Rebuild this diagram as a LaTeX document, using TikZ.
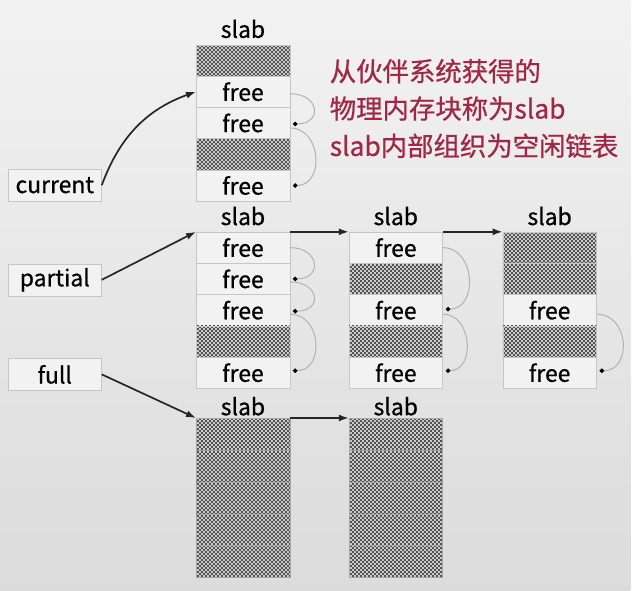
\documentclass[tikz,border=0pt]{standalone}
\usepackage{fontspec}
\setmainfont{Noto Sans CJK SC}[FakeBold=0.7]
\usepackage{xcolor}
\usetikzlibrary{patterns,arrows.meta,calc}
\definecolor{notered}{RGB}{160,40,70}
\pgfdeclarepatternformonly{finecheck}{\pgfpointorigin}{\pgfqpoint{4pt}{4pt}}{\pgfqpoint{4pt}{4pt}}{%
  \pgfpathrectangle{\pgfpointorigin}{\pgfqpoint{2pt}{2pt}}%
  \pgfpathrectangle{\pgfqpoint{2pt}{2pt}}{\pgfqpoint{2pt}{2pt}}%
  \pgfusepath{fill}}

\begin{document}
\begin{tikzpicture}[x=1pt, y=-1pt,
  every node/.style={font=\fontsize{23}{26}\selectfont, inner sep=0pt},
  freecell/.style={draw=gray!45, fill=gray!10, minimum width=94pt, minimum height=31.4pt},
  usedcell/.style={draw=gray!45, preaction={fill=gray!35}, pattern=finecheck, pattern color=gray!65!black, minimum width=94pt, minimum height=31.4pt},
  fullcell/.style={usedcell, draw=gray!70, minimum height=32pt},
  listbox/.style={draw=gray!45, fill=gray!10, minimum width=94pt, minimum height=32pt},
  ptr/.style={-{Latex[length=10pt,width=7pt]}, line width=1.7pt, black!85},
  link/.style={-{Circle[length=4.5pt,color=black]}, gray!60, line width=1pt, out=0, in=0}]

  % ========== Background ==========
  \fill[top color=gray!10, bottom color=gray!28] (0,0) rectangle (633,593);

  % ========== List heads ==========
  \node[listbox] (current) at (55,186) {current};
  \node[listbox] (partial) at (55,281) {partial};
  \node[listbox] (full) at (55,376) {full};

  % ========== Slab on the current list ==========
  \node (cslab) at (244,29) {slab};
  \node[usedcell] (c1) at (244,60.7) {};
  \node[freecell] (c2) at (244,92.1) {free};
  \node[freecell] (c3) at (244,123.5) {free};
  \node[usedcell] (c4) at (244,154.9) {};
  \node[freecell] (c5) at (244,186.3) {free};

  % Note
  \node[font=\fontsize{26.5}{37.5}\selectfont, text=notered, align=left, anchor=north west] (note) at (331,59)
    {从伙伴系统获得的\\物理内存块称为slab\\slab内部组织为空闲链表};

  % ========== Slabs on the partial list ==========
  \node (pslab) at (244,217) {slab};
  \node[freecell] (p1) at (244,248.7) {free};
  \node[freecell] (p2) at (244,280.1) {free};
  \node[freecell] (p3) at (244,311.5) {free};
  \node[usedcell] (p4) at (244,342.9) {};
  \node[freecell] (p5) at (244,374.3) {free};

  \node (qslab) at (397.5,217) {slab};
  \node[freecell] (q1) at (397.5,248.7) {free};
  \node[usedcell] (q2) at (397.5,280.1) {};
  \node[freecell] (q3) at (397.5,311.5) {free};
  \node[usedcell] (q4) at (397.5,342.9) {};
  \node[freecell] (q5) at (397.5,374.3) {free};

  \node (rslab) at (552,217) {slab};
  \node[usedcell] (r1) at (552,248.7) {};
  \node[usedcell] (r2) at (552,280.1) {};
  \node[freecell] (r3) at (552,311.5) {free};
  \node[usedcell] (r4) at (552,342.9) {};
  \node[freecell] (r5) at (552,374.3) {free};

  % ========== Slabs on the full list ==========
  \node (fslab) at (244,408) {slab};
  \node[fullcell] (f1) at (244,436) {};
  \node[fullcell] (f2) at (244,468) {};
  \node[fullcell] (f3) at (244,500) {};
  \node[fullcell] (f4) at (244,532) {};
  \node[fullcell] (f5) at (244,564) {};

  \node (gslab) at (397.5,408) {slab};
  \node[fullcell] (g1) at (397.5,436) {};
  \node[fullcell] (g2) at (397.5,468) {};
  \node[fullcell] (g3) at (397.5,500) {};
  \node[fullcell] (g4) at (397.5,532) {};
  \node[fullcell] (g5) at (397.5,564) {};

  % ========== Pointers ==========
  \draw[ptr] (current.east) to[bend left=25] (c2.west);
  \draw[ptr] (partial.east) -- (p1.north west);
  \draw[ptr] (full.east) -- (f1.north west);
  \draw[ptr] (p1.north east) -- (q1.north west);
  \draw[ptr] (q1.north east) -- (r1.north west);
  \draw[ptr] (f1.north east) -- (g1.north west);

  % ========== Free lists ==========
  \draw[link] ($(c2.east)+(0,2)$) to[distance=30pt] ($(c3.east)+(3,1)$);
  \draw[link] ($(c3.east)+(0,5)$) to[distance=32pt] ($(c5.east)+(3,0)$);

  \draw[link] ($(p1.east)+(0,0)$) to[distance=30pt] ($(p2.east)+(3,0)$);
  \draw[link] ($(p2.east)+(0,3)$) to[distance=30pt] ($(p3.east)+(3,1)$);
  \draw[link] ($(p3.east)+(0,4)$) to[distance=32pt] ($(p5.east)+(3,-2)$);

  \draw[link] ($(q1.east)+(0,0)$) to[distance=33pt] ($(q3.east)+(3,-1)$);
  \draw[link] ($(q3.east)+(0,4)$) to[distance=30pt] ($(q5.east)+(3,-2)$);

  \draw[link] ($(r3.east)+(0,4)$) to[distance=33pt] ($(r5.east)+(3,-2)$);

\end{tikzpicture}
\end{document}
